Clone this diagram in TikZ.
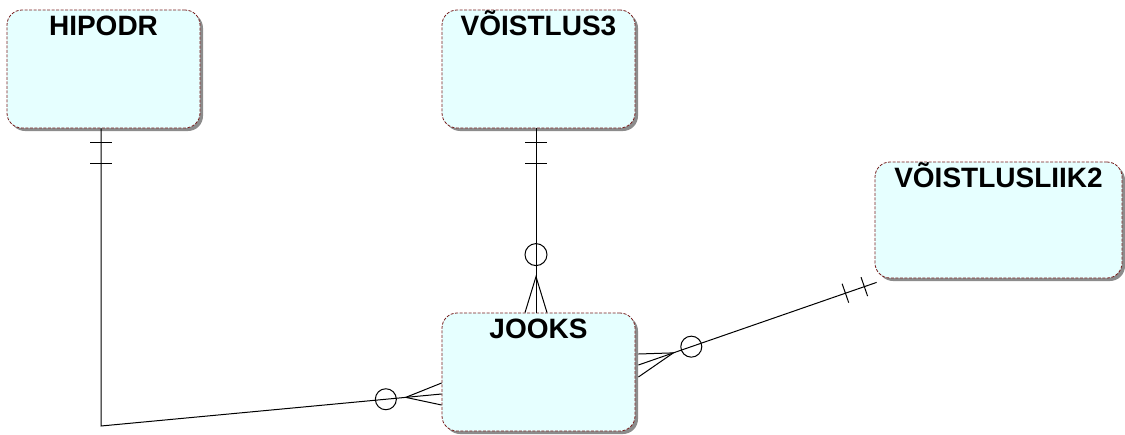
\documentclass[tikz,border=0pt]{standalone}
\usepackage{fontspec}
\setmainfont{Liberation Sans}
\usetikzlibrary{calc,shadows}
\definecolor{entfill}{RGB}{230,255,255}
\definecolor{entline}{RGB}{120,30,30}
\tikzset{
  entity/.style={rounded corners=15pt, fill=entfill, draw=entline,
    dash pattern=on 3pt off 1.5pt, line width=0.8pt,
    minimum width=193pt, minimum height=118pt, inner sep=0pt,
    drop shadow={shadow xshift=3pt, shadow yshift=-3pt, fill=gray!90, opacity=1}},
  title/.style={font=\fontsize{28}{32}\selectfont\bfseries, anchor=base, yshift=-26pt},
  rel/.style={line width=1pt}
}
\begin{document}
\begin{tikzpicture}[x=1pt, y=-1pt]
  \useasboundingbox (0,0) rectangle (1125,434);
  % Entities
  \node[entity, label={[title]north:HIPODR}] (hipodr) at (103.5,69) {};
  \node[entity, label={[title]north:VÕISTLUS3}] (voistlus3) at (538.5,69) {};
  \node[entity, label={[title]north:JOOKS}] (jooks) at (538.5,372) {};
  \node[entity, minimum width=247pt, minimum height=116pt,
    label={[title]north:VÕISTLUSLIIK2}] (voistlusliik2) at (998.5,220) {};

  % HIPODR -- JOOKS
  \path ($(hipodr.south)+(-2.5,0)$) coordinate (H1);
  \path (101,426) coordinate (H2);
  \path ($(jooks.west)+(0,22)$) coordinate (H3);
  \path ($(H3)!36pt!(H2)$) coordinate (H4);
  \path ($(H3)!56pt!(H2)$) coordinate (Hc);
  \draw[rel] (H1) -- (H2) -- (H3);
  \draw[rel] ($(H1)+(-11,14)$) -- ($(H1)+(11,14)$);
  \draw[rel] ($(H1)+(-11,35)$) -- ($(H1)+(11,35)$);
  \draw[rel] (Hc) circle (10.5pt);
  \draw[rel] ($(jooks.west)+(0,11)$) -- (H4) -- ($(jooks.west)+(0,33)$);

  % VOISTLUS3 -- JOOKS
  \path ($(voistlus3.south)+(-2.5,0)$) coordinate (V1);
  \path ($(jooks.north)+(-2.5,0)$) coordinate (V2);
  \path ($(V2)+(0,-36)$) coordinate (V4);
  \path ($(V2)+(0,-58)$) coordinate (Vc);
  \draw[rel] (V1) -- (V2);
  \draw[rel] ($(V1)+(-11,14)$) -- ($(V1)+(11,14)$);
  \draw[rel] ($(V1)+(-11,35)$) -- ($(V1)+(11,35)$);
  \draw[rel] (Vc) circle (11pt);
  \draw[rel] ($(V2)+(-11,0)$) -- (V4) -- ($(V2)+(11,0)$);

  % JOOKS -- VOISTLUSLIIK2
  \path ($(jooks.east)+(3,-7)$) coordinate (J1);
  \path ($(voistlusliik2.south west)+(2,4)$) coordinate (K1);
  \path ($(J1)!37pt!(K1)$) coordinate (J4);
  \path ($(J1)!56pt!(K1)$) coordinate (Jc);
  \path ($(K1)!13pt!(J1)$) coordinate (T1);
  \path ($(K1)!33pt!(J1)$) coordinate (T2);
  \draw[rel] (J1) -- (K1);
  \draw[rel] ($(T1)!10pt!90:(K1)$) -- ($(T1)!10pt!-90:(K1)$);
  \draw[rel] ($(T2)!10pt!90:(K1)$) -- ($(T2)!10pt!-90:(K1)$);
  \draw[rel] (Jc) circle (10.5pt);
  \draw[rel] ($(J1)+(0,-11)$) -- (J4) -- ($(J1)+(0,12)$);
\end{tikzpicture}
\end{document}
